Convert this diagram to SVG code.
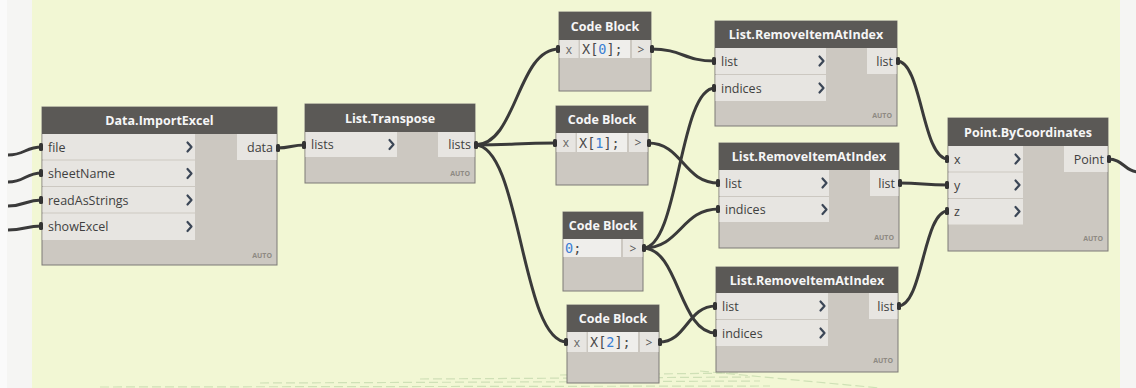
<svg xmlns="http://www.w3.org/2000/svg" width="1136" height="388" viewBox="0 0 1136 388">
<style>
.hdr{fill:#5b5956}
.body{fill:#ccc8c1;stroke:#7c7a76;stroke-width:1}
.row{fill:#e7e5e1}
.cell{fill:#efeeeb}
.ttl{font-family:"Open Sans","Noto Sans",sans-serif;font-size:12.5px;font-weight:bold;fill:#f6f6f6;text-anchor:middle}
.lbl{font-family:"Open Sans","Noto Sans",sans-serif;font-size:12.5px;fill:#3f3f3f}
.out{text-anchor:end}
.auto{font-family:"Open Sans","Noto Sans",sans-serif;font-size:7px;font-weight:bold;fill:#8e8a83;text-anchor:end}
.chev{fill:none;stroke:#3b4656;stroke-width:2.2;stroke-linecap:round;stroke-linejoin:round}
.code{font-family:"DejaVu Sans Mono","Liberation Mono",monospace;font-size:13.5px;fill:#4a4a4a}
.num{fill:#3a80d4}
.gt{font-family:"Open Sans","Noto Sans",sans-serif;font-size:12px;fill:#555;text-anchor:middle}
.px{font-family:"Open Sans","Noto Sans",sans-serif;font-size:12px;fill:#666;text-anchor:middle}
.wire{fill:none;stroke:#3a3a3a;stroke-width:3}
.nub{fill:#333}
.grid{fill:none;stroke:#cfe0b6;stroke-width:1.2;stroke-dasharray:9 4}
</style>
<rect x="0" y="0" width="1136" height="388" fill="#fafafa"/>
<rect x="7" y="0" width="25" height="388" fill="#f5f5f3"/>
<rect x="1120" y="0" width="16" height="388" fill="#f5f5f3"/>
<rect x="32" y="0" width="1088" height="388" fill="#f2f7d4"/>
<g id="grid">
<path class="grid" d="M100 387 L770 386"/>
<path class="grid" d="M260 383 L760 381"/>
<path class="grid" d="M420 379 L750 377"/>
<path class="grid" d="M560 375 L740 373"/>
<path class="grid" d="M700 371 L880 388" stroke-dasharray="2 3"/>
</g>
<g id="connectors">
<path class="wire" d="M8 155 C25 155 25 147 42 147"/>
<path class="wire" d="M8 182 C25 182 25 173 42 173"/>
<path class="wire" d="M8 206 C25 206 25 200 42 200"/>
<path class="wire" d="M8 230 C25 230 25 226 42 226"/>
<path class="wire" d="M277 148 C291 148 291 145 305 145"/>
<path class="wire" d="M475 145 C517 145 517 49 559 49"/>
<path class="wire" d="M475 145 C515 145 515 143 556 143"/>
<path class="wire" d="M475 145 C521 145 521 342 567 342"/>
<path class="wire" d="M651 49 C683 49 683 61 715 61"/>
<path class="wire" d="M648 143 C683 143 683 183 719 183"/>
<path class="wire" d="M643 248 C679 248 679 88 715 88"/>
<path class="wire" d="M643 248 C681 248 681 209 719 209"/>
<path class="wire" d="M643 248 C679 248 679 333 716 333"/>
<path class="wire" d="M659 342 C687 342 687 306 716 306"/>
<path class="wire" d="M897 61 C922 61 922 159 948 159"/>
<path class="wire" d="M899 183 C923 183 923 185 948 185"/>
<path class="wire" d="M898 306 C923 306 923 211 948 211"/>
<path class="wire" d="M1108 159 C1124 159 1124 172 1140 172"/>
</g>
<g id="importexcel">
<rect class="body" x="42" y="107" width="235" height="158"/>
<rect class="hdr" x="42" y="107" width="235" height="27"/>
<text class="ttl" x="159.5" y="125">Data.ImportExcel</text>
<rect class="row" x="42.5" y="134" width="152.5" height="25.5"/>
<rect class="row" x="42.5" y="160.5" width="152.5" height="25.5"/>
<rect class="row" x="42.5" y="187" width="152.5" height="25.5"/>
<rect class="row" x="42.5" y="213.5" width="152.5" height="26.5"/>
<rect class="row" x="237" y="134" width="39.5" height="26"/>
<text class="lbl" x="48" y="151.5">file</text>
<text class="lbl" x="48" y="178">sheetName</text>
<text class="lbl" x="48" y="204.5">readAsStrings</text>
<text class="lbl" x="48" y="231">showExcel</text>
<text class="lbl out" x="273" y="151.5">data</text>
<path class="chev" d="M187.5 142.5 L191.5 147 L187.5 151.5"/>
<path class="chev" d="M187.5 169 L191.5 173.5 L187.5 178"/>
<path class="chev" d="M187.5 195.5 L191.5 200 L187.5 204.5"/>
<path class="chev" d="M187.5 222 L191.5 226.5 L187.5 231"/>
<text class="auto" x="272" y="258">AUTO</text>
<rect class="nub" x="39" y="143" width="4" height="8" rx="1.5"/>
<rect class="nub" x="39" y="169" width="4" height="8" rx="1.5"/>
<rect class="nub" x="39" y="196" width="4" height="8" rx="1.5"/>
<rect class="nub" x="39" y="222" width="4" height="8" rx="1.5"/>
<rect class="nub" x="276" y="144" width="4" height="8" rx="1.5"/>
</g>
<g id="transpose">
<rect class="body" x="305" y="104" width="170" height="79"/>
<rect class="hdr" x="305" y="104" width="170" height="28"/>
<text class="ttl" x="390" y="122.5">List.Transpose</text>
<rect class="row" x="305.5" y="132" width="91.5" height="25"/>
<rect class="row" x="438" y="132" width="36.5" height="25"/>
<text class="lbl" x="311" y="149">lists</text>
<text class="lbl out" x="471" y="149">lists</text>
<path class="chev" d="M389.5 140 L393.5 144.5 L389.5 149"/>
<text class="auto" x="470" y="176">AUTO</text>
<rect class="nub" x="302" y="141" width="4" height="8" rx="1.5"/>
<rect class="nub" x="474" y="141" width="4" height="8" rx="1.5"/>
</g>
<g id="codeblock1">
<rect class="body" x="559" y="12" width="92" height="79"/>
<rect class="hdr" x="559" y="12" width="92" height="28"/>
<text class="ttl" x="605" y="30.5">Code Block</text>
<rect class="row" x="559.5" y="40" width="19" height="18"/>
<rect class="cell" x="580" y="40" width="50" height="18"/>
<rect class="row" x="632" y="40" width="18.5" height="18"/>
<text class="px" x="569" y="53.5">x</text>
<text class="code" x="582" y="54">X[<tspan class="num">0</tspan>];</text>
<text class="gt" x="641" y="53.5">&gt;</text>
<rect class="nub" x="556" y="45" width="4" height="8" rx="1.5"/>
<rect class="nub" x="650" y="45" width="4" height="8" rx="1.5"/>
</g>
<g id="codeblock2">
<rect class="body" x="556" y="106" width="92" height="79"/>
<rect class="hdr" x="556" y="106" width="92" height="27"/>
<text class="ttl" x="602" y="124">Code Block</text>
<rect class="row" x="556.5" y="133" width="19" height="19"/>
<rect class="cell" x="577" y="133" width="50" height="19"/>
<rect class="row" x="629" y="133" width="18.5" height="19"/>
<text class="px" x="566" y="147">x</text>
<text class="code" x="579" y="147.5">X[<tspan class="num">1</tspan>];</text>
<text class="gt" x="638" y="147">&gt;</text>
<rect class="nub" x="553" y="139" width="4" height="8" rx="1.5"/>
<rect class="nub" x="647" y="139" width="4" height="8" rx="1.5"/>
</g>
<g id="codeblock3">
<rect class="body" x="563" y="212" width="80" height="79"/>
<rect class="hdr" x="563" y="212" width="80" height="27"/>
<text class="ttl" x="603" y="230">Code Block</text>
<rect class="cell" x="563.5" y="239" width="57.5" height="18"/>
<rect class="row" x="623" y="239" width="19.5" height="18"/>
<text class="code" x="565" y="253">
<tspan class="num">0</tspan>;</text>
<text class="gt" x="633" y="252.5">&gt;</text>
<rect class="nub" x="642" y="244" width="4" height="8" rx="1.5"/>
</g>
<g id="codeblock4">
<rect class="body" x="567" y="305" width="92" height="78"/>
<rect class="hdr" x="567" y="305" width="92" height="27"/>
<text class="ttl" x="613" y="323">Code Block</text>
<rect class="row" x="567.5" y="332" width="19" height="20"/>
<rect class="cell" x="588" y="332" width="50" height="20"/>
<rect class="row" x="640" y="332" width="18.5" height="20"/>
<text class="px" x="577" y="346.5">x</text>
<text class="code" x="590" y="347">X[<tspan class="num">2</tspan>];</text>
<text class="gt" x="649" y="346.5">&gt;</text>
<rect class="nub" x="564" y="338" width="4" height="8" rx="1.5"/>
<rect class="nub" x="658" y="338" width="4" height="8" rx="1.5"/>
</g>
<g id="removeitem1">
<rect class="body" x="715" y="21" width="182" height="105"/>
<rect class="hdr" x="715" y="21" width="182" height="27"/>
<text class="ttl" x="806" y="39">List.RemoveItemAtIndex</text>
<rect class="row" x="715.5" y="48" width="110.5" height="26"/>
<rect class="row" x="715.5" y="75" width="110.5" height="26"/>
<rect class="row" x="867" y="48" width="29.5" height="26"/>
<text class="lbl" x="721" y="65.5">list</text>
<text class="lbl" x="721" y="92.5">indices</text>
<text class="lbl out" x="893" y="65.5">list</text>
<path class="chev" d="M819.5 56.5 L823.5 61 L819.5 65.5"/>
<path class="chev" d="M819.5 83.5 L823.5 88 L819.5 92.5"/>
<text class="auto" x="892" y="118">AUTO</text>
<rect class="nub" x="712" y="57" width="4" height="8" rx="1.5"/>
<rect class="nub" x="712" y="84" width="4" height="8" rx="1.5"/>
<rect class="nub" x="896" y="57" width="4" height="8" rx="1.5"/>
</g>
<g id="removeitem2">
<rect class="body" x="719" y="143" width="180" height="105"/>
<rect class="hdr" x="719" y="143" width="180" height="27"/>
<text class="ttl" x="809" y="161">List.RemoveItemAtIndex</text>
<rect class="row" x="719.5" y="170" width="109.5" height="26"/>
<rect class="row" x="719.5" y="197" width="109.5" height="25"/>
<rect class="row" x="870" y="170" width="28.5" height="26"/>
<text class="lbl" x="725" y="187.5">list</text>
<text class="lbl" x="725" y="214">indices</text>
<text class="lbl out" x="895" y="187.5">list</text>
<path class="chev" d="M822.5 178.5 L826.5 183 L822.5 187.5"/>
<path class="chev" d="M822.5 205 L826.5 209.5 L822.5 214"/>
<text class="auto" x="894" y="240">AUTO</text>
<rect class="nub" x="716" y="179" width="4" height="8" rx="1.5"/>
<rect class="nub" x="716" y="205" width="4" height="8" rx="1.5"/>
<rect class="nub" x="898" y="179" width="4" height="8" rx="1.5"/>
</g>
<g id="removeitem3">
<rect class="body" x="716" y="267" width="182" height="105"/>
<rect class="hdr" x="716" y="267" width="182" height="26"/>
<text class="ttl" x="807" y="284.5">List.RemoveItemAtIndex</text>
<rect class="row" x="716.5" y="293" width="111.5" height="26"/>
<rect class="row" x="716.5" y="320" width="111.5" height="26"/>
<rect class="row" x="869" y="293" width="28.5" height="26"/>
<text class="lbl" x="722" y="310.5">list</text>
<text class="lbl" x="722" y="337.5">indices</text>
<text class="lbl out" x="894" y="310.5">list</text>
<path class="chev" d="M820.5 301.5 L824.5 306 L820.5 310.5"/>
<path class="chev" d="M820.5 328.5 L824.5 333 L820.5 337.5"/>
<text class="auto" x="893" y="363">AUTO</text>
<rect class="nub" x="713" y="302" width="4" height="8" rx="1.5"/>
<rect class="nub" x="713" y="329" width="4" height="8" rx="1.5"/>
<rect class="nub" x="897" y="302" width="4" height="8" rx="1.5"/>
</g>
<g id="pointbycoordinates">
<rect class="body" x="948" y="118" width="160" height="133"/>
<rect class="hdr" x="948" y="118" width="160" height="28"/>
<text class="ttl" x="1028" y="136.5">Point.ByCoordinates</text>
<rect class="row" x="948.5" y="146" width="74.5" height="25.5"/>
<rect class="row" x="948.5" y="172.5" width="74.5" height="25.5"/>
<rect class="row" x="948.5" y="199" width="74.5" height="25.5"/>
<rect class="row" x="1064" y="146" width="43.5" height="26"/>
<text class="lbl" x="954" y="163.5">x</text>
<text class="lbl" x="954" y="189.5">y</text>
<text class="lbl" x="954" y="216">z</text>
<text class="lbl out" x="1104" y="163.5">Point</text>
<path class="chev" d="M1015.5 154.5 L1019.5 159 L1015.5 163.5"/>
<path class="chev" d="M1015.5 180.5 L1019.5 185 L1015.5 189.5"/>
<path class="chev" d="M1015.5 207 L1019.5 211.5 L1015.5 216"/>
<text class="auto" x="1103" y="241">AUTO</text>
<rect class="nub" x="945" y="155" width="4" height="8" rx="1.5"/>
<rect class="nub" x="945" y="181" width="4" height="8" rx="1.5"/>
<rect class="nub" x="945" y="207" width="4" height="8" rx="1.5"/>
<rect class="nub" x="1107" y="155" width="4" height="8" rx="1.5"/>
</g>
</svg>
